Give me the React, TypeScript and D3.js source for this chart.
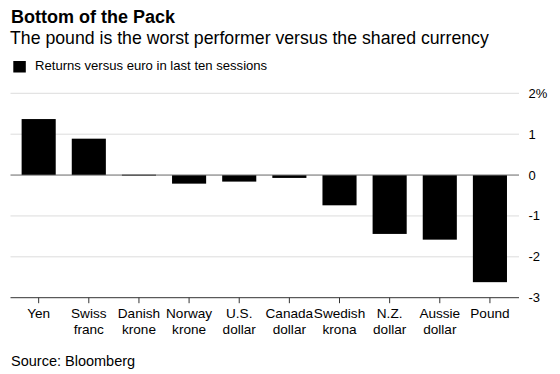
import * as d3 from "d3";

const currencies = [
  ["Yen"],
  ["Swiss", "franc"],
  ["Danish", "krone"],
  ["Norway", "krone"],
  ["U.S.", "dollar"],
  ["Canada", "dollar"],
  ["Swedish", "krona"],
  ["N.Z.", "dollar"],
  ["Aussie", "dollar"],
  ["Pound"],
];
const returns = [1.37, 0.89, 0.01, -0.21, -0.16, -0.07, -0.74, -1.44, -1.58, -2.62];
const yTicks = [2, 1, 0, -1, -2, -3];

const font = "'Liberation Sans', Arial, Helvetica, sans-serif";

const App = () => {
  const width = 560;
  const height = 374;
  const plotLeft = 10.5;
  const plotRight = 519;

  const keys = currencies.map((c) => c.join(" "));
  const x = d3
    .scaleBand<string>()
    .domain(keys)
    .range([13.6, 515])
    .paddingInner(0.32)
    .paddingOuter(0.16);
  const y = d3.scaleLinear().domain([-3, 2]).range([297.7, 93.3]);

  return (
    <svg
      width={width}
      height={height}
      style={{ position: "absolute", left: 0, top: 0, fontFamily: font }}
    >
      <rect width={width} height={height} fill="#fff" />
      <text x={11} y={22.7} fontSize={18} fontWeight="bold" fill="#000">
        Bottom of the Pack
      </text>
      <text x={10} y={44} fontSize={17.7} fill="#000">
        The pound is the worst performer versus the shared currency
      </text>
      <rect x={13.3} y={61} width={12.5} height={11.5} fill="#000" />
      <text x={35} y={70} fontSize={13.1} fill="#000">
        Returns versus euro in last ten sessions
      </text>

      {/* grid */}
      {yTicks.map((t) => (
        <g key={t}>
          {t !== 0 && t !== -3 && (
            <line x1={plotLeft} x2={plotRight} y1={y(t)} y2={y(t)} stroke="#dcdcdc" strokeWidth={1} />
          )}
          <text x={528.5} y={y(t)} dy="0.35em" fontSize={13} fill="#000">
            {t === 2 ? "2%" : t}
          </text>
        </g>
      ))}

      {/* bars */}
      {returns.map((v, i) => (
        <rect
          key={keys[i]}
          x={x(keys[i])}
          width={x.bandwidth()}
          y={y(Math.max(0, v))}
          height={Math.max(1, Math.abs(y(v) - y(0)))}
          fill="#000"
        />
      ))}

      <line x1={plotLeft} x2={plotRight} y1={y(0)} y2={y(0)} stroke="#666" strokeWidth={1} />
      <line x1={plotLeft} x2={plotRight} y1={y(-3)} y2={y(-3)} stroke="#333" strokeWidth={1} />

      {/* x axis */}
      {currencies.map((c, i) => {
        const cx = (x(keys[i]) as number) + x.bandwidth() / 2;
        return (
          <g key={keys[i]}>
            <line x1={cx} x2={cx} y1={y(-3)} y2={y(-3) + 5.5} stroke="#333" />
            {c.map((line, j) => (
              <text
                key={j}
                x={cx}
                y={318.3 + j * 16}
                textAnchor="middle"
                fontSize={13.6}
                fill="#000"
              >
                {line}
              </text>
            ))}
          </g>
        );
      })}

      <text x={11} y={366} fontSize={14.5} fill="#000">
        Source: Bloomberg
      </text>
    </svg>
  );
};

export default App;
